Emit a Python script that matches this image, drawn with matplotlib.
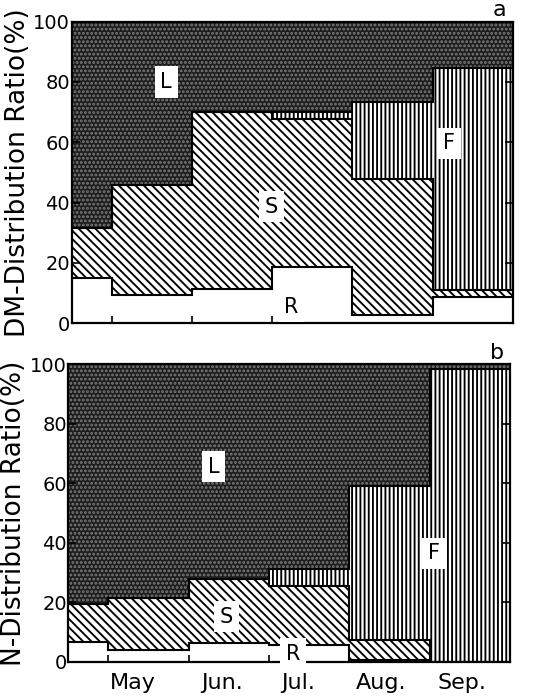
import numpy as np
import matplotlib
matplotlib.use('Agg')
import matplotlib.pyplot as plt

# sampling periods on the x axis (first period is half length)
edges = [0, 0.5, 1.5, 2.5, 3.5, 4.5, 5.5]
months = ['May', 'Jun.', 'Jul.', 'Aug.', 'Sep.']
month_pos = [0.8, 1.92, 2.86, 3.9, 4.9]

# DM distribution ratio (%) per period, leaf = remainder to 100
dm_root = [15.0, 9.4, 11.3, 18.8, 2.8, 8.7]
dm_stem = [16.5, 36.5, 58.7, 48.8, 45.0, 2.3]
dm_fruit = [0, 0, 0, 2.6, 25.7, 73.5]

# N distribution ratio (%) per period
n_root = [6.7, 3.9, 6.2, 5.6, 0.5, 0]
n_stem = [12.6, 17.6, 21.5, 19.8, 6.8, 0]
n_fruit = [0, 0, 0, 5.6, 51.7, 98.5]

plt.rcParams['font.family'] = ['DejaVu Sans']
plt.rcParams['hatch.linewidth'] = 1.35

BS = chr(92)  # backslash, for the stem hatch


def draw_panel(ax, root, stem, fruit):
    root = np.array(root, dtype=float)
    stem = np.array(stem, dtype=float)
    fruit = np.array(fruit, dtype=float)
    leaf = 100 - root - stem - fruit

    # (values, face colour, hatch, hatch colour)
    layers = [
        (root, 'white', '', 'white'),
        (stem, 'white', BS * 4, 'black'),
        (fruit, 'white', '||||', 'black'),
        (leaf, '#1e1e1e', '....', '#7c7c7c'),
    ]
    bottom = np.zeros(len(root))
    tops = []
    for vals, fc, hatch, hc in layers:
        top = bottom + vals
        ax.stairs(top, edges, baseline=bottom, fill=True, facecolor=fc,
                  edgecolor=hc, hatch=hatch, linewidth=0)
        tops.append(top)
        bottom = top

    # step outlines on top of root, stem and fruit layers
    for top in tops[:3]:
        ax.stairs(top, edges, baseline=None, color='black', linewidth=1.5)

    ax.set_xlim(0, 5.5)
    ax.set_ylim(0, 100)
    ax.set_yticks([0, 20, 40, 60, 80, 100])
    ax.tick_params(axis='y', direction='in', left=True, right=True,
                   length=6, width=1.2, labelsize=14, pad=1)
    for s in ax.spines.values():
        s.set_linewidth(1.6)


def box_label(ax, x, y, s):
    ax.text(x, y, s, ha='center', va='center', fontsize=15,
            bbox=dict(facecolor='white', edgecolor='none', pad=4))


fig = plt.figure(figsize=(5.38, 6.99), dpi=100)
ax_a = fig.add_axes([0.133, 0.5375, 0.820, 0.4315])
ax_b = fig.add_axes([0.127, 0.0534, 0.821, 0.4256])

# panel a
draw_panel(ax_a, dm_root, dm_stem, dm_fruit)
ax_a.set_xticks([0.5, 1.5, 2.5])
ax_a.set_xticklabels([])
ax_a.tick_params(axis='x', direction='in', length=5, width=1.2)
ax_a.set_ylabel('DM-Distribution Ratio(%)', fontsize=19, labelpad=2)
ax_a.text(0.97, 1.005, 'a', transform=ax_a.transAxes, ha='center',
          va='bottom', fontsize=16)
box_label(ax_a, 1.18, 80, 'L')
box_label(ax_a, 2.49, 38.7, 'S')
box_label(ax_a, 4.71, 59.7, 'F')
box_label(ax_a, 2.74, 5.5, 'R')

# panel b
draw_panel(ax_b, n_root, n_stem, n_fruit)
ax_b.set_xticks(month_pos)
ax_b.set_xticklabels(months, fontsize=16)
ax_b.tick_params(axis='x', which='major', length=0, pad=8)
ax_b.set_xticks([0.5, 1.5, 2.5], minor=True)
ax_b.tick_params(axis='x', which='minor', direction='in', length=5, width=1.2)
ax_b.set_ylabel('N-Distribution Ratio(%)', fontsize=19, labelpad=2)
ax_b.text(0.97, 1.005, 'b', transform=ax_b.transAxes, ha='center',
          va='bottom', fontsize=16)
box_label(ax_b, 1.81, 65.5, 'L')
box_label(ax_b, 1.97, 15.1, 'S')
box_label(ax_b, 4.55, 36.4, 'F')
box_label(ax_b, 2.80, 2.6, 'R')

fig.savefig('out.png', dpi=100)
